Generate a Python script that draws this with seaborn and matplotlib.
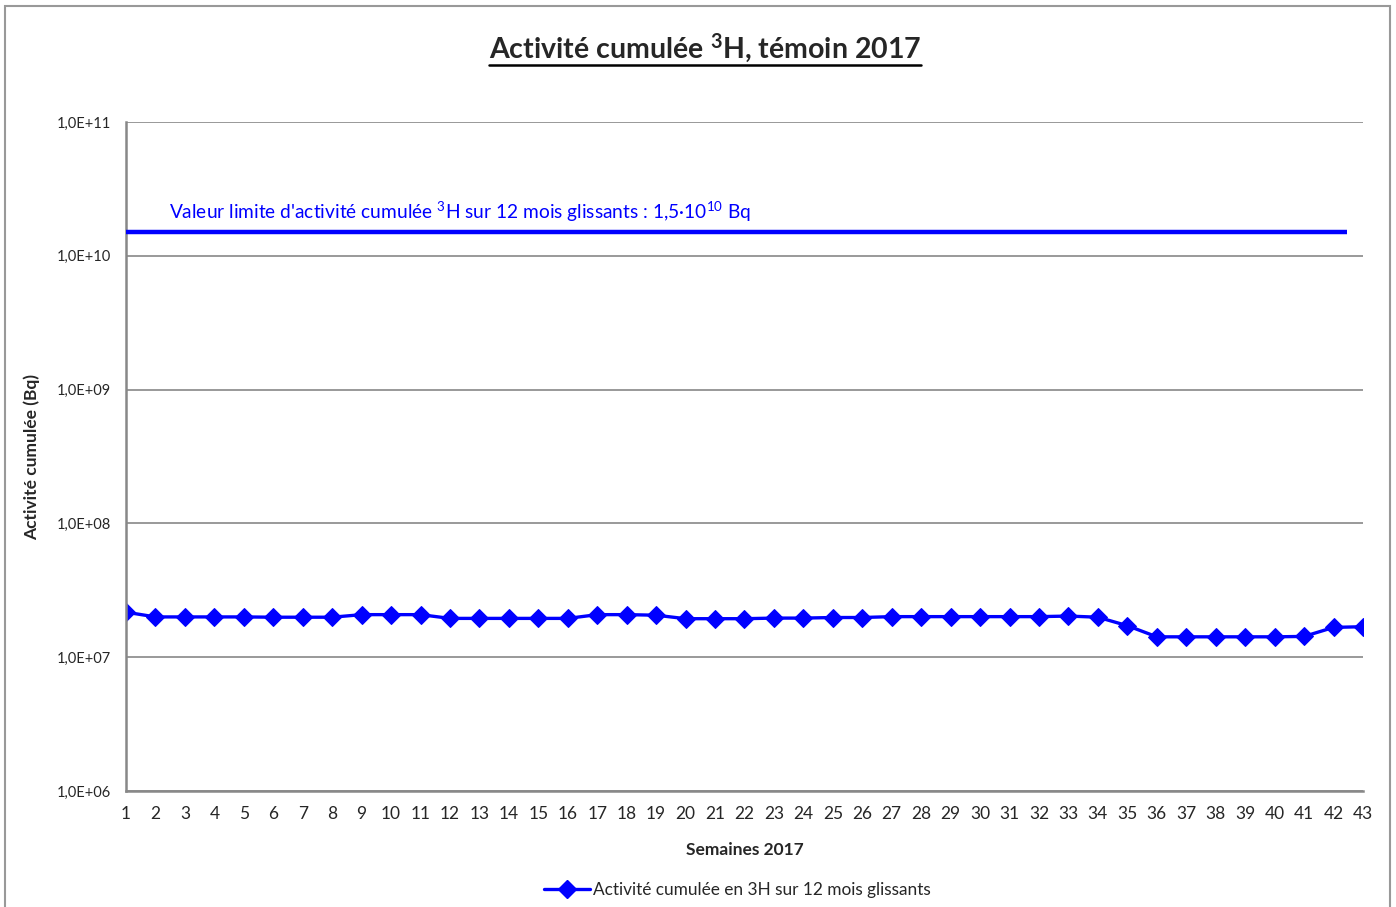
import numpy as np
import pandas as pd
import matplotlib
matplotlib.use("Agg")
import matplotlib.pyplot as plt
import seaborn as sns
from matplotlib.patches import Rectangle
from matplotlib.lines import Line2D
from matplotlib.ticker import LogLocator, FixedLocator

# ==========================
# DATA
# ==========================
weeks = list(range(1, 44))
activity = [
    2.17e7, 2.00e7, 2.00e7, 2.00e7, 2.00e7, 1.99e7, 1.99e7, 1.99e7,
    2.08e7, 2.08e7, 2.08e7, 1.95e7, 1.95e7, 1.95e7, 1.95e7, 1.95e7,
    2.08e7, 2.08e7, 2.06e7, 1.94e7, 1.94e7, 1.94e7, 1.96e7, 1.96e7,
    1.98e7, 1.98e7, 2.01e7, 2.01e7, 2.01e7, 2.01e7, 2.01e7, 2.01e7,
    2.03e7, 1.99e7, 1.72e7, 1.42e7, 1.42e7, 1.42e7, 1.42e7, 1.42e7,
    1.43e7, 1.67e7, 1.69e7,
]
limit_value = 1.5e10
limit_end_week = 42.45

df = pd.DataFrame({"Semaine": weeks, "Activite": activity})

# ==========================
# STYLE
# ==========================
sns.set_style("white")
plt.rcParams["font.family"] = ["Lato", "DejaVu Sans"]
plt.rcParams["mathtext.fontset"] = "custom"
plt.rcParams["mathtext.rm"] = "Lato"
plt.rcParams["mathtext.bf"] = "Lato:bold"
plt.rcParams["mathtext.default"] = "rm"

blue = "#0000FF"
grey = "#888888"

fig = plt.figure(figsize=(13.96, 9.07), dpi=100)
ax = fig.add_axes([126 / 1396, 1 - 791 / 907, (1363 - 126) / 1396, (791 - 122) / 907])

# ==========================
# PLOT
# ==========================
sns.lineplot(
    data=df, x="Semaine", y="Activite", ax=ax,
    color=blue, linewidth=2.4, marker="D", markersize=9,
    markeredgecolor=blue, legend=False,
)
ax.hlines(limit_value, weeks[0], limit_end_week, color=blue, linewidth=3.2, zorder=3)
ax.text(2.45, limit_value * 1.15,
        r"Valeur limite d'activité cumulée $^{3}$H sur 12 mois glissants : 1,5·10$^{10}$ Bq",
        color=blue, fontsize=13.8, va="bottom", ha="left")

ax.set_yscale("log")
ax.set_ylim(1e6, 1e11)
ax.set_xlim(1, 43)
ax.set_xticks(weeks)
ax.set_xticklabels([str(w) for w in weeks], fontsize=12.5)
ax.yaxis.set_major_locator(FixedLocator([1e6, 1e7, 1e8, 1e9, 1e10, 1e11]))
ax.yaxis.set_minor_locator(LogLocator(base=10, subs=np.arange(2, 10)))
ax.set_yticklabels(["1,0E+06", "1,0E+07", "1,0E+08", "1,0E+09", "1,0E+10", "1,0E+11"],
                   fontsize=10.5)
ax.tick_params(axis="y", which="major", length=5, width=1.2, color=grey, direction="out", pad=6)
ax.tick_params(axis="y", which="minor", length=4, width=1.0, color=grey, direction="out")
ax.tick_params(axis="x", which="major", length=5, width=1.2, color=grey, direction="out", pad=6)
ax.minorticks_on()
ax.xaxis.set_minor_locator(FixedLocator([]))

ax.grid(axis="y", which="major", color=grey, linewidth=1.2)
ax.grid(axis="x", visible=False)
for side in ["top", "right"]:
    ax.spines[side].set_visible(False)
for side in ["left", "bottom"]:
    ax.spines[side].set_color(grey)
    ax.spines[side].set_linewidth(1.8)

ax.set_xlabel("Semaines 2017", fontsize=12.5, fontweight="bold", labelpad=14)
ax.set_ylabel("Activité cumulée (Bq)", fontsize=12.5, fontweight="bold", labelpad=12)

# legend
handle = Line2D([], [], color=blue, linewidth=2.4, marker="D", markersize=9)
fig.legend([handle], ["Activité cumulée en 3H sur 12 mois glissants"],
           loc="center", bbox_to_anchor=(0.528, 1 - 890 / 907), frameon=False,
           fontsize=12.4, handlelength=2.7, handletextpad=0.15)

# title with underline
title = fig.text(0.505, 1 - 48 / 907, r"Activité cumulée $\mathbf{^{3}}$H, témoin 2017",
                 ha="center", va="center", fontsize=20.5, fontweight="bold")
fig.canvas.draw()
bb = title.get_window_extent().transformed(fig.transFigure.inverted())
fig.add_artist(Line2D([bb.x0, bb.x1], [bb.y0 - 0.001, bb.y0 - 0.001],
                      transform=fig.transFigure, color="black", linewidth=1.8))

# outer frame
fig.add_artist(Rectangle((5 / 1396, -0.01), (1390 - 5) / 1396, 1 - 6 / 907 + 0.01,
                         transform=fig.transFigure, fill=False,
                         edgecolor="#999999", linewidth=1.5))

plt.savefig("out.png", dpi=100)
plt.close()
